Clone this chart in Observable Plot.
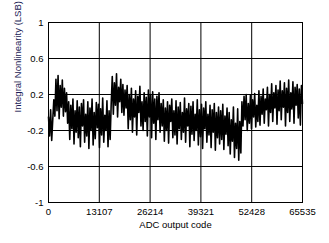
<!DOCTYPE html>
<html>
<head>
<meta charset="utf-8">
<script src="https://cdn.jsdelivr.net/npm/d3@7"></script>
<script src="https://cdn.jsdelivr.net/npm/@observablehq/plot@0.6"></script>
<style>
  html, body { margin: 0; padding: 0; background: #fff; }
  #chart { width: 329px; height: 243px; }
</style>
</head>
<body>
<div id="chart"></div>
<script>
const xTicks = [0, 13107, 26214, 39321, 52428, 65535];
const yTicks = [-1, -0.6, -0.2, 0.2, 0.6, 1];
const yTickLabels = ["-1", "-0.6", "-0.2", "0.2", "0.6", "1"];
const xTitle = "ADC output code";
const yTitle = "Integral Nonlinearity (LSB)";
const maxCode = 65535;

const inl = [
  -0.05, -0.26, 0.03, -0.31, -0.08, 0.14, -0.04, 0.37, 0.02, 0.41,
  -0.07, 0.30, 0.06, 0.36, -0.04, 0.27, 0.01, 0.22, -0.12, 0.12,
  -0.30, 0.08, -0.18, 0.15, -0.35, 0.02, -0.22, 0.13, -0.28, 0.06,
  -0.38, 0.10, -0.15, 0.14, -0.33, -0.02, -0.26, 0.12, -0.40, 0.05,
  -0.20, 0.15, -0.36, 0.00, -0.29, 0.11, -0.17, 0.09, -0.39, 0.04,
  -0.25, 0.16, -0.33, -0.03, -0.20, 0.13, -0.38, 0.02, -0.30, 0.10,
  0.40, -0.02, 0.33, 0.08, 0.43, -0.05, 0.28, 0.12, 0.37, 0.00,
  0.31, -0.03, 0.25, 0.05, 0.30, -0.18, 0.20, -0.08, 0.27, -0.22,
  0.15, -0.05, 0.24, -0.25, 0.18, 0.00, 0.29, -0.15, 0.12, -0.20,
  0.22, -0.10, 0.17, -0.26, 0.25, -0.05, 0.20, -0.28, 0.23, -0.12,
  0.15, -0.30, 0.18, -0.08, 0.22, -0.22, 0.10, -0.15, 0.14, -0.32,
  0.05, -0.20, 0.12, -0.34, 0.08, -0.10, 0.15, -0.28, 0.02, -0.25,
  0.13, -0.35, 0.06, -0.18, 0.11, -0.30, 0.00, -0.22, 0.16, -0.33,
  0.04, -0.15, 0.10, -0.38, 0.07, -0.24, 0.12, -0.31, -0.02, -0.20,
  0.14, -0.36, 0.03, -0.27, 0.09, -0.40, 0.05, -0.18, 0.12, -0.33,
  -0.02, -0.25, 0.08, -0.39, 0.03, -0.22, 0.10, -0.42, 0.00, -0.28,
  0.06, -0.35, 0.02, -0.30, 0.09, -0.41, -0.04, -0.24, 0.05, -0.37,
  0.00, -0.46, -0.08, -0.32, 0.06, -0.50, -0.12, -0.40, 0.04, -0.53,
  -0.10, -0.45, 0.12, -0.15, 0.18, -0.08, 0.20, -0.20, 0.10, -0.12,
  0.19, -0.18, 0.14, -0.05, 0.21, -0.16, 0.08, -0.10, 0.24, -0.14,
  0.18, -0.02, 0.26, -0.12, 0.15, 0.03, 0.28, -0.15, 0.20, 0.00,
  0.32, -0.10, 0.22, 0.05, 0.30, -0.13, 0.25, 0.02, 0.35, -0.08,
  0.24, 0.06, 0.33, -0.15, 0.27, 0.00, 0.36, -0.10, 0.22, 0.04,
  0.34, -0.12, 0.28, 0.08, 0.31, -0.06, 0.26, -0.14, 0.30, 0.10
];

const data = inl.map((v, i) => ({code: i * maxCode / (inl.length - 1), inl: v}));

const chart = Plot.plot({
  width: 329,
  height: 243,
  marginLeft: 48,
  marginRight: 27,
  marginTop: 22,
  marginBottom: 41,
  style: {fontFamily: "Liberation Sans, Arial, sans-serif", fontSize: "9.5px", background: "#fff", color: "#000"},
  x: {domain: [0, maxCode]},
  y: {domain: [-1, 1]},
  marks: [
    Plot.ruleX(xTicks.slice(1, -1), {stroke: "#000", strokeWidth: 1}),
    Plot.ruleY(yTicks.slice(1, -1), {stroke: "#000", strokeWidth: 1}),
    Plot.lineY(data, {x: "code", y: "inl", stroke: "#000", strokeWidth: 1.6}),
    Plot.frame({stroke: "#000", strokeWidth: 1}),
    Plot.axisX({ticks: xTicks, tickSize: 0, tickPadding: 6, label: null, tickFormat: d => String(d), fill: "#000"}),
    Plot.axisY({ticks: yTicks, tickSize: 0, tickPadding: 5, label: null, tickFormat: (d, i) => yTickLabels[yTicks.indexOf(d)], fill: "#000"}),
    Plot.text([xTitle], {frameAnchor: "bottom", dy: 25, text: d => d, fill: "#000", fontSize: 9.5}),
    Plot.text([yTitle], {frameAnchor: "left", dx: -31, rotate: -90, text: d => d, fill: "#1a1a55", fontSize: 9.5})
  ]
});
document.getElementById("chart").appendChild(chart);
</script>
</body>
</html>
